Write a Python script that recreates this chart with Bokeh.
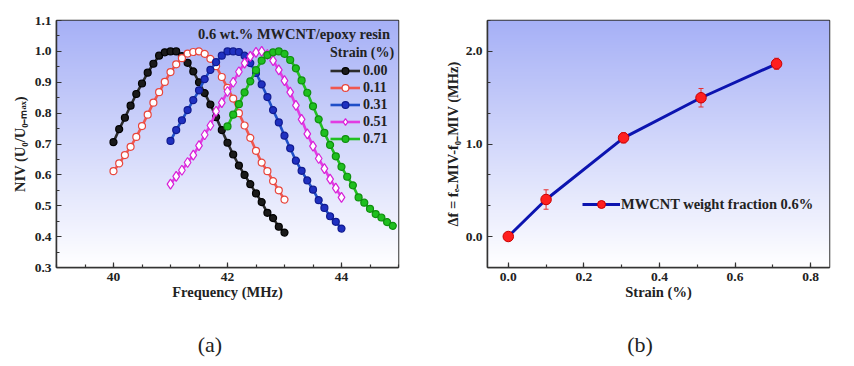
import numpy as np
from bokeh.plotting import figure
from bokeh.layouts import row, column
from bokeh.models import (Range1d, SingleIntervalTicker, NumeralTickFormatter, Legend,
                          LegendItem, Label, ColumnDataSource, Whisker, TeeHead, Div)
from bokeh.embed import file_html
from bokeh.resources import INLINE

FONT = "Liberation Serif"

# ---------------- data: panel (a) ----------------
freq_40_43 = [40.0, 40.1, 40.2, 40.3, 40.4, 40.5, 40.6, 40.7, 40.8, 40.9,
              41.0, 41.1, 41.2, 41.3, 41.4, 41.5, 41.6, 41.7, 41.8, 41.9,
              42.0, 42.1, 42.2, 42.3, 42.4, 42.5, 42.6, 42.7, 42.8, 42.9, 43.0]
freq_41_44 = [41.0, 41.1, 41.2, 41.3, 41.4, 41.5, 41.6, 41.7, 41.8, 41.9,
              42.0, 42.1, 42.2, 42.3, 42.4, 42.5, 42.6, 42.7, 42.8, 42.9,
              43.0, 43.1, 43.2, 43.3, 43.4, 43.5, 43.6, 43.7, 43.8, 43.9, 44.0]
freq_42_45 = [42.0, 42.1, 42.2, 42.3, 42.4, 42.5, 42.6, 42.7, 42.8, 42.9,
              43.0, 43.1, 43.2, 43.3, 43.4, 43.5, 43.6, 43.7, 43.8, 43.9,
              44.0, 44.1, 44.2, 44.3, 44.4, 44.5, 44.6, 44.7, 44.8, 44.9]

niv_000 = [0.706, 0.748, 0.785, 0.824, 0.862, 0.896, 0.931, 0.960, 0.986, 0.997,
           1.000, 1.000, 0.985, 0.963, 0.935, 0.900, 0.865, 0.828, 0.787, 0.745,
           0.704, 0.666, 0.630, 0.600, 0.570, 0.540, 0.512, 0.477, 0.460, 0.432, 0.413]
niv_011 = [0.612, 0.637, 0.664, 0.691, 0.723, 0.758, 0.795, 0.834, 0.868, 0.901,
           0.933, 0.958, 0.978, 0.993, 0.998, 1.000, 0.992, 0.976, 0.952, 0.917,
           0.882, 0.847, 0.800, 0.760, 0.720, 0.678, 0.640, 0.612, 0.580, 0.550, 0.520]
niv_031 = [0.710, 0.745, 0.777, 0.810, 0.842, 0.874, 0.910, 0.940, 0.965, 0.986,
           1.000, 1.000, 0.998, 0.986, 0.962, 0.930, 0.893, 0.852, 0.810, 0.770,
           0.727, 0.686, 0.646, 0.613, 0.582, 0.552, 0.518, 0.493, 0.466, 0.448, 0.426]
niv_051 = [0.570, 0.595, 0.615, 0.640, 0.664, 0.695, 0.730, 0.760, 0.806, 0.834,
           0.870, 0.900, 0.934, 0.962, 0.984, 0.997, 1.000, 0.990, 0.970, 0.940,
           0.905, 0.868, 0.825, 0.780, 0.733, 0.693, 0.653, 0.620, 0.586, 0.557, 0.527]
niv_071 = [0.757, 0.795, 0.829, 0.867, 0.903, 0.939, 0.970, 0.988, 0.997, 1.000,
           0.992, 0.972, 0.945, 0.906, 0.866, 0.822, 0.780, 0.736, 0.697, 0.660,
           0.626, 0.594, 0.566, 0.527, 0.510, 0.490, 0.473, 0.462, 0.447, 0.435]

strain_labels = ["0.00", "0.11", "0.31", "0.51", "0.71"]

# ---------------- data: panel (b) ----------------
strain = [0.0, 0.10, 0.305, 0.51, 0.71]
delta_f = [0.0, 0.40, 1.067, 1.50, 1.867]
delta_err = [0.02, 0.105, 0.055, 0.10, 0.06]

captions = ["(a)", "(b)"]

AX_COLOR = "#333333"


def add_gradient(p, x0, x1, y0, y1):
    n = 240
    t = np.linspace(0.0, 1.0, n)  # bottom -> top
    top = np.array([166, 176, 246])
    bot = np.array([255, 255, 255])
    img = np.empty((n, 1), dtype=np.uint32)
    view = img.view(dtype=np.uint8).reshape((n, 1, 4))
    for k in range(3):
        view[:, 0, k] = np.round(bot[k] + (top[k] - bot[k]) * t).astype(np.uint8)
    view[:, 0, 3] = 255
    p.image_rgba(image=[img], x=x0, y=y0, dw=x1 - x0, dh=y1 - y0, level="image")


def style_axes(p):
    for ax in (p.xaxis[0], p.yaxis[0]):
        ax.axis_line_color = AX_COLOR
        ax.axis_line_width = 1.5
        ax.major_tick_line_color = AX_COLOR
        ax.minor_tick_line_color = AX_COLOR
        ax.major_tick_line_width = 1.2
        ax.minor_tick_line_width = 1.2
        ax.major_tick_in = 5
        ax.major_tick_out = 0
        ax.minor_tick_in = 3
        ax.minor_tick_out = 0
        ax.major_label_text_font = FONT
        ax.major_label_text_font_style = "bold"
        ax.major_label_text_font_size = "13.5px"
        ax.major_label_text_color = "#222222"
        ax.axis_label_text_font = FONT
        ax.axis_label_text_font_style = "bold"
        ax.axis_label_text_font_size = "14.5px"
        ax.axis_label_text_color = "#222222"
        ax.major_label_standoff = 5
    p.xgrid.visible = False
    p.ygrid.visible = False
    p.outline_line_color = AX_COLOR
    p.outline_line_width = 1.5
    p.outline_line_alpha = 1.0
    p.background_fill_color = "white"
    p.border_fill_color = "white"


def caption_div(text, width, inner_width):
    html = ('<div style="width:%dpx;text-align:center;padding-top:22px;'
            'font-family:\'Liberation Serif\';font-size:22px;line-height:26px;'
            'color:#222222;">%s</div>' % (inner_width, text))
    return Div(text=html, width=width, height=56, margin=0)


H = 310

# ---------------- panel (a) ----------------
xa0, xa1, ya0, ya1 = 39.0, 45.0, 0.3, 1.1
p1 = figure(width=427, height=H, output_backend="svg", toolbar_location=None,
            x_range=Range1d(xa0, xa1), y_range=Range1d(ya0, ya1),
            min_border_left=56, min_border_right=29, min_border_top=18,
            min_border_bottom=H - 267)
add_gradient(p1, xa0, xa1, ya0, ya1)
style_axes(p1)
p1.xaxis[0].ticker = SingleIntervalTicker(interval=2, num_minor_ticks=4)
p1.yaxis[0].ticker = SingleIntervalTicker(interval=0.1, num_minor_ticks=2)
p1.xaxis[0].formatter = NumeralTickFormatter(format="0")
p1.yaxis[0].formatter = NumeralTickFormatter(format="0.0")
p1.xaxis[0].axis_label = "Frequency (MHz)"
p1.yaxis[0].axis_label = "NIV (U\u2080/U\u2080\u208b\u2098\u2090\u2093)"
p1.xaxis[0].axis_label_standoff = 0
p1.yaxis[0].axis_label_standoff = 4

series = [
    (strain_labels[0], freq_40_43, niv_000, "#2b2b2b", "circle", "#1a1a1a", "#000000", 7),
    (strain_labels[1], freq_40_43, niv_011, "#f0574f", "circle", "white", "#e8453c", 7),
    (strain_labels[2], freq_41_44, niv_031, "#1f4fc8", "circle", "#1f30c0", "#101a90", 7),
    (strain_labels[3], freq_41_44, niv_051, "#e23ce2", "diamond", "white", "#d820d8", 10),
    (strain_labels[4], freq_42_45, niv_071, "#22c022", "circle", "#1fbf1f", "#0f8f0f", 7),
]
items = []
for lab, xs, ys, lc, mk, fc, mc, sz in series:
    ln = p1.line(xs, ys, line_color=lc, line_width=2.6)
    sc = p1.scatter(xs, ys, marker=mk, size=sz, fill_color=fc, line_color=mc, line_width=1.2)
    items.append(LegendItem(label=lab, renderers=[ln, sc]))

leg1 = Legend(items=items, location=(274, 120), title="Strain (%)",
              title_text_font=FONT, title_text_font_style="bold", title_text_font_size="14px",
              title_text_color="#222222", title_standoff=1,
              label_text_font=FONT, label_text_font_style="bold", label_text_font_size="14px",
              label_text_color="#222222",
              glyph_width=30, glyph_height=17, label_height=17, label_standoff=3,
              spacing=0, padding=0, margin=0,
              background_fill_alpha=0, border_line_alpha=0)
p1.add_layout(leg1)

p1.add_layout(Label(x=44.85, y=1.055, text="0.6 wt.% MWCNT/epoxy resin",
                    text_align="right", text_baseline="middle", text_font=FONT,
                    text_font_style="bold", text_font_size="14.5px", text_color="#222222"))

# ---------------- panel (b) ----------------
xb0, xb1, yb0, yb1 = -0.055, 0.85, -0.335, 2.335
p2 = figure(width=426, height=H, output_backend="svg", toolbar_location=None,
            x_range=Range1d(xb0, xb1), y_range=Range1d(yb0, yb1),
            min_border_left=60, min_border_right=24, min_border_top=20,
            min_border_bottom=H - 267)
add_gradient(p2, xb0, xb1, yb0, yb1)
style_axes(p2)
p2.xaxis[0].ticker = SingleIntervalTicker(interval=0.2, num_minor_ticks=2)
p2.yaxis[0].ticker = SingleIntervalTicker(interval=1.0, num_minor_ticks=3)
p2.xaxis[0].formatter = NumeralTickFormatter(format="0.0")
p2.yaxis[0].formatter = NumeralTickFormatter(format="0.0")
p2.xaxis[0].axis_label = "Strain (%)"
p2.yaxis[0].axis_label = "\u0394f = f\u2091\u208bMIV-f\u2080\u208bMIV (MHz)"
p2.xaxis[0].axis_label_standoff = 0
p2.yaxis[0].axis_label_standoff = 2

src = ColumnDataSource(dict(x=strain, y=delta_f,
                            upper=[v + e for v, e in zip(delta_f, delta_err)],
                            lower=[v - e for v, e in zip(delta_f, delta_err)]))
ln2 = p2.line("x", "y", source=src, line_color="#0c14b0", line_width=3)
wh = Whisker(source=src, base="x", upper="upper", lower="lower",
             line_color="#e83030", line_width=1,
             upper_head=TeeHead(size=5, line_color="#e83030", line_width=1),
             lower_head=TeeHead(size=5, line_color="#e83030", line_width=1))
p2.add_layout(wh)
sc2 = p2.scatter("x", "y", source=src, marker="circle", size=10.5,
                 fill_color="#ff1f1f", line_color="#c80000", line_width=1)

leg2 = Legend(items=[LegendItem(label="MWCNT weight fraction 0.6%", renderers=[ln2, sc2])],
              location=(95, 53),
              label_text_font=FONT, label_text_font_style="bold", label_text_font_size="14.5px",
              label_text_color="#222222",
              glyph_width=38, glyph_height=20, label_height=20, label_standoff=1,
              spacing=0, padding=0, margin=0,
              background_fill_alpha=0, border_line_alpha=0)
p2.add_layout(leg2)

cap_a = caption_div(captions[0], 427, 420)
cap_b = caption_div(captions[1], 426, 426)

layout = column(row(p1, p2), row(cap_a, cap_b))
open("out.html", "w").write(file_html(layout, INLINE))
